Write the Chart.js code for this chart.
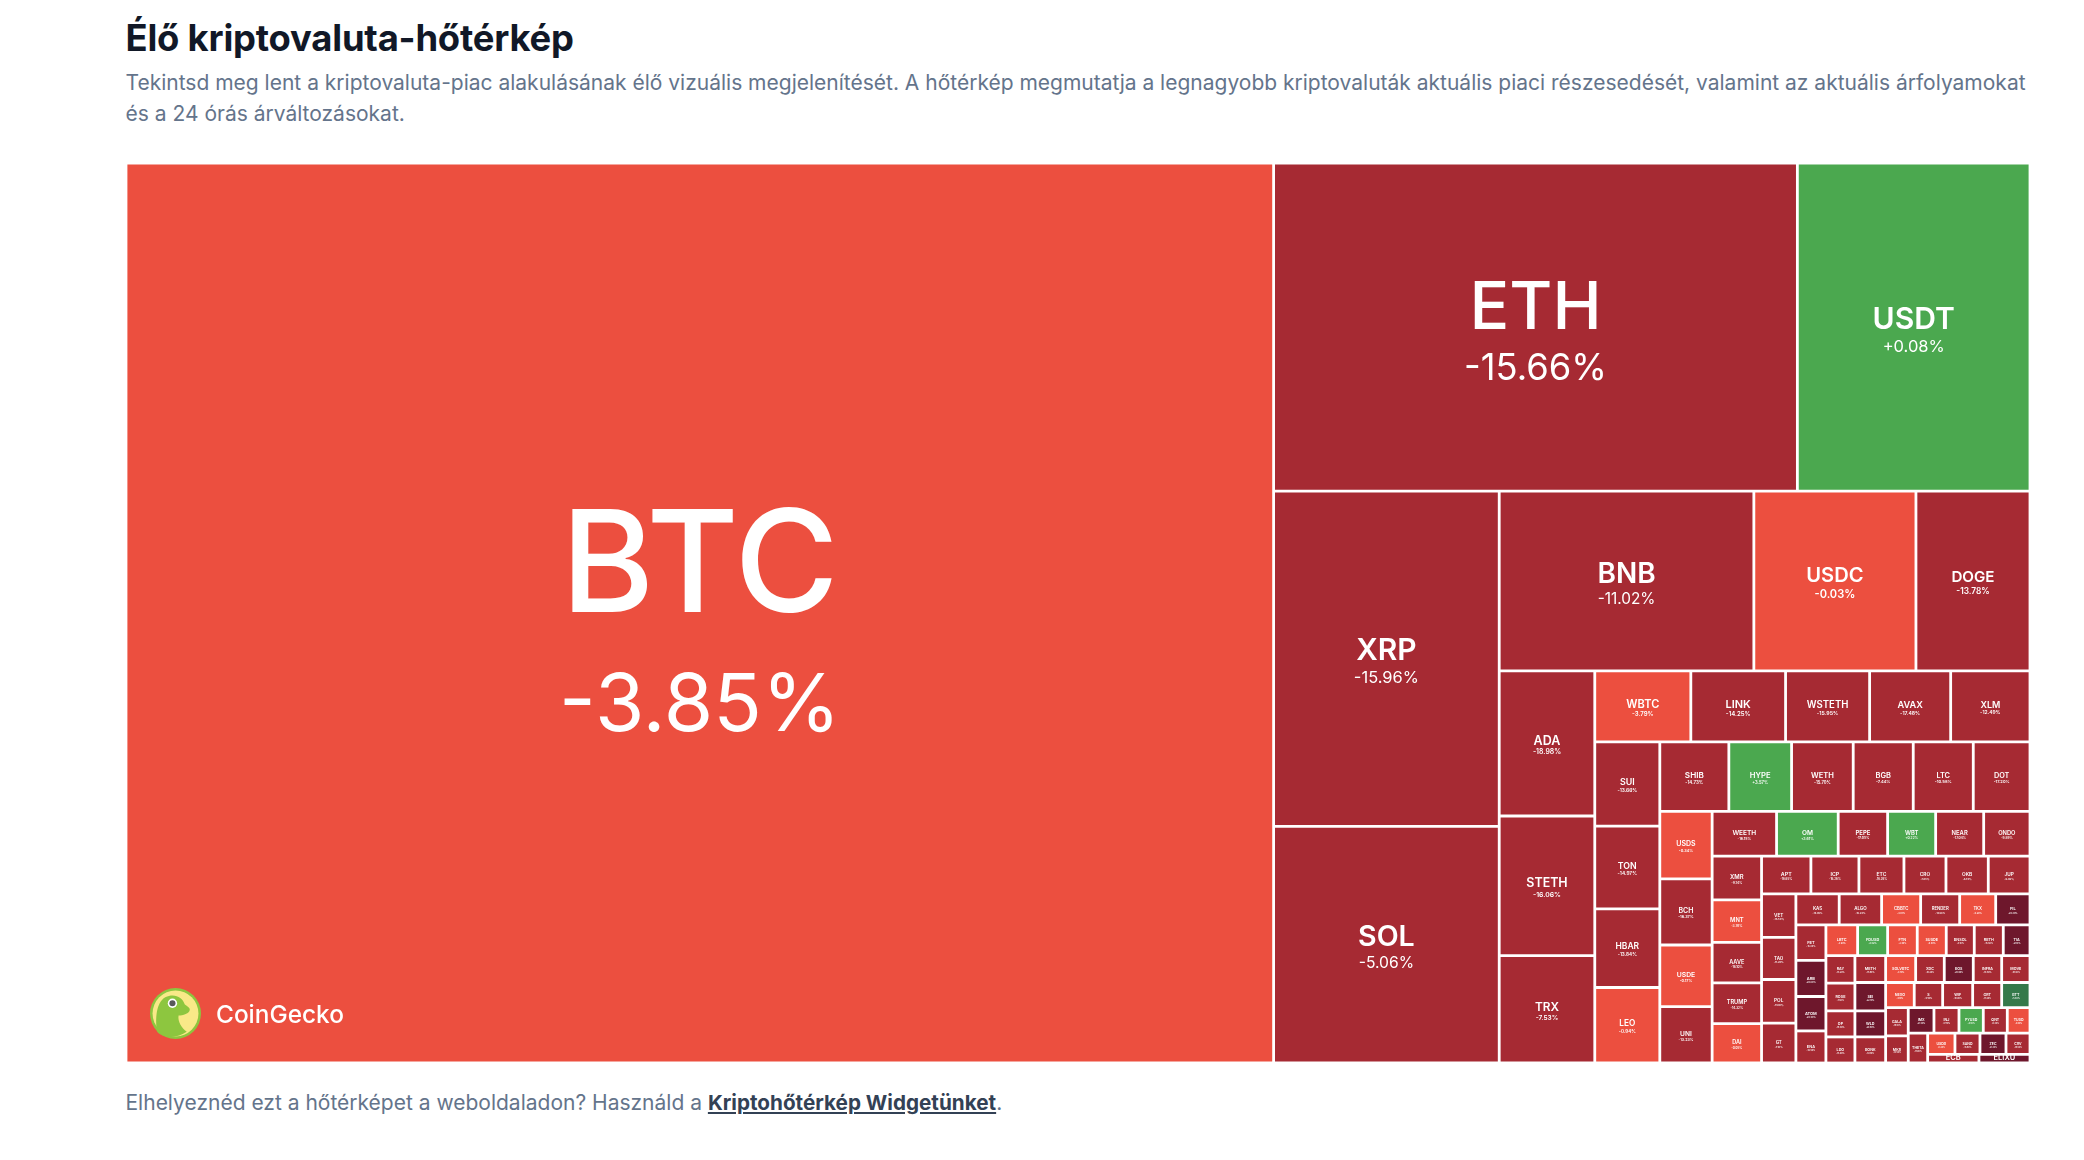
<!DOCTYPE html>
<html lang="hu">
<head>
<meta charset="UTF-8" />
<title>Élő kriptovaluta-hőtérkép</title>
<script src="https://cdn.jsdelivr.net/npm/chart.js@4"></script>
<style>
  html, body { margin: 0; padding: 0; background: #fff; font-family: Inter, sans-serif; }
  body { position: relative; width: 2084px; height: 1160px; overflow: hidden; }
  h1 { position: absolute; left: 125.5px; top: 16px; margin: 0; font-size: 36.4px; line-height: 44px; font-weight: 700; color: #111827; letter-spacing: -0.2px; }
  .lead { position: absolute; left: 125.5px; top: 67px; width: 1908px; margin: 0; font-size: 21px; line-height: 31px; color: #64748b; }
  .foot { position: absolute; left: 125.5px; top: 1087px; margin: 0; font-size: 21px; line-height: 31px; color: #64748b; }
  .foot a { color: #334155; font-size: 20.7px; font-weight: 700; text-decoration: underline; }
  #heatmap { position: absolute; left: 126px; top: 163px; }
  .brand { position: absolute; left: 150px; top: 988px; display: flex; align-items: center; color: #fff; font-size: 24.4px; font-weight: 500; }
  .brand svg { margin-right: 15px; }
</style>
</head>
<body>
<h1>Élő kriptovaluta-hőtérkép</h1>
<p class="lead">Tekintsd meg lent a kriptovaluta-piac alakulásának élő vizuális megjelenítését. A hőtérkép megmutatja a legnagyobb kriptovaluták aktuális piaci részesedését, valamint az aktuális árfolyamokat és a 24 órás árváltozásokat.</p>
<canvas id="heatmap" width="1904" height="900"></canvas>
<div class="brand">
  <svg width="51" height="51" viewBox="0 0 50 50">
    <circle cx="25" cy="25" r="25" fill="#8dc63f" />
    <circle cx="25" cy="25" r="22.5" fill="#f9e988" />
    <path d="M7 43C5 30 6 14 15 9c9-4 17 0 19 7 2 2 5 3 5 5 0 4-7 6-11 6-1 6 3 12 8 16-8 6-23 7-29 0z" fill="#8dc63f" />
    <circle cx="22" cy="15" r="4.6" fill="#fff" />
    <circle cx="22" cy="15" r="3" fill="#58595b" />
  </svg>
  <span>CoinGecko</span>
</div>
<p class="foot">Elhelyeznéd ezt a hőtérképet a weboldaladon? Használd a <a href="#">Kriptohőtérkép Widgetünket</a>.</p>

<script>
const symbols = ['BTC','ETH','USDT','XRP','SOL','BNB','USDC','DOGE','ADA','STETH','TRX','WBTC','LINK','WSTETH','AVAX','XLM','SUI','TON','HBAR','LEO','SHIB','HYPE','WETH','BGB','LTC','DOT','USDS','BCH','USDE','UNI','WEETH','OM','PEPE','WBT','NEAR','ONDO','XMR','MNT','AAVE','TRUMP','DAI','APT','ICP','ETC','CRO','OKB','JUP','VET','TAO','POL','GT','KAS','ALGO','CBBTC','RENDER','TKX','FIL','FET','ARB','ATOM','ENA','LBTC','FDUSD','FTN','SUSDE','BNSOL','RETH','TIA','RAY','ROSE','OP','LDO','METH','SOLVBTC','XDC','EOS','INFRA','MOVE','SEI','WLD','BONK','NEXO','S','WIF','GRT','BTT','GALA','MKR','IMX','INJ','PYUSD','QNT','TUSD','THETA','USD0','SAND','ZEC','CRV','ECB','ELIXU'];

const marketCaps = [1029433,171289,76074,75385,53218,45632,29047,20440,13819,13303,10219,6787,6695,5939,5727,5606,5460,5369,5096,4895,4782,4345,4269,4158,4158,3929,3520,3452,3211,2944,2879,2754,2208,2146,2146,2070,2154,2095,1991,2011,1941,1854,1805,1692,1579,1590,1568,1489,1441,1495,1362,1342,1314,1209,1209,1116,1063,1062,1080,1029,960,973,921,909,890,860,890,820,792,803,754,754,820,801,764,774,758,756,869,798,798,715,710,750,725,708,640,610,658,640,622,614,581,576,573,525,546,504,446,444];

const changes24h = [-3.85,-15.66,0.08,-15.96,-5.06,-11.02,-0.03,-13.78,-18.98,-16.06,-7.53,-3.79,-14.25,-15.95,-17.48,-12.49,-13.66,-14.97,-13.84,-0.94,-14.73,3.57,-15.70,-7.44,-10.58,-17.20,-0.34,-16.37,-0.17,-13.23,-16.15,3.61,-17.05,0.22,-17.04,-9.89,-9.14,-3.76,-16.10,-14.32,-0.05,-16.65,-16.26,-16.26,-7.05,-8.14,-9.89,-15.50,-11.20,-14.10,-7.10,-15.05,-15.24,-3.81,-14.90,-4.20,-20.30,-16.30,-20.60,-20.40,-19.50,-3.90,0.02,-2.40,-0.40,-6.10,-15.60,-21.10,-16.20,-7.60,-18.40,-16.90,-15.80,-3.70,-10.20,-20.90,-14.60,-18.30,-22.10,-20.80,-19.10,-4.10,-17.60,-18.90,-17.20,5.40,-18.10,-13.50,-21.40,-17.70,0.10,-9.30,-0.60,-17.90,-0.20,-16.80,-21.30,-18.60,-17.24,-25.85];

const LAYOUT_W = 1903;
const LAYOUT_H = 897.5;

function tileColor(change) {
  if (change >= 5) return '#35794a';
  if (change >= 0) return '#4ba84f';
  if (change > -5) return '#ec4f3f';
  if (change > -20) return '#a62a33';
  return '#6e172c';
}

// alternating strips: a strip stops growing as soon as its last tile gets less square
function layoutTiles(values, width, height) {
  const total = values.reduce((a, b) => a + b, 0);
  const unit = (width * height) / total;
  const areas = values.map(v => v * unit);
  const aspect = (a, b) => Math.max(a / b, b / a);
  const tiles = [];
  let rect = { x: 0, y: 0, w: width, h: height };
  let vertical = true;
  let i = 0;

  while (i < areas.length) {
    const side = vertical ? rect.h : rect.w;
    let sum = areas[i];
    let j = i + 1;
    while (j < areas.length) {
      const last = areas[j - 1];
      const before = sum / side;
      const after = (sum + areas[j]) / side;
      if (aspect(after, last / after) > aspect(before, last / before)) break;
      sum += areas[j];
      j += 1;
    }
    const thick = j === areas.length ? (vertical ? rect.w : rect.h) : sum / side;
    let pos = 0;
    for (let k = i; k < j; k++) {
      const len = (areas[k] / sum) * side;
      tiles.push(vertical
        ? { x0: rect.x, x1: rect.x + thick, y0: rect.y + pos, y1: rect.y + pos + len }
        : { x0: rect.x + pos, x1: rect.x + pos + len, y0: rect.y, y1: rect.y + thick });
      pos += len;
    }
    rect = vertical
      ? { x: rect.x + thick, y: rect.y, w: rect.w - thick, h: rect.h }
      : { x: rect.x, y: rect.y + thick, w: rect.w, h: rect.h - thick };
    vertical = !vertical;
    i = j;
  }
  return tiles;
}

class TileController extends Chart.DatasetController {
  parse(start, count) {
    const data = this.getDataset().data;
    const parsed = this._cachedMeta._parsed;
    for (let i = start; i < start + count; i++) parsed[i] = data[i];
  }

  update(mode) {
    const meta = this._cachedMeta;
    this.updateElements(meta.data, 0, meta.data.length, mode);
  }

  updateElements(rects, start, count, mode) {
    const { xScale, yScale } = this._cachedMeta;
    const data = this.getDataset().data;
    for (let i = start; i < start + count; i++) {
      const t = data[i];
      const left = xScale.getPixelForValue(t.x0);
      const right = xScale.getPixelForValue(t.x1);
      this.updateElement(rects[i], i, {
        x: (left + right) / 2,
        y: yScale.getPixelForValue(t.y0),
        base: yScale.getPixelForValue(t.y1),
        width: right - left,
        horizontal: false,
        borderSkipped: {},
        enableBorderRadius: false,
        inflateAmount: 0,
        options: this.resolveDataElementOptions(i, mode),
      }, mode);
    }
  }

  draw() {
    const ctx = this.chart.ctx;
    this._cachedMeta.data.forEach(el => el.draw(ctx));
  }
}
TileController.id = 'tile';
TileController.defaults = { dataElementType: 'bar' };
Chart.register(TileController);

// label size follows the tile size
const sizeStops = [[20, 3.4], [30, 3.8], [40, 4.8], [47, 6], [65, 7.5], [75, 9], [82, 11], [117, 12.5], [134, 13.5], [170, 20], [214, 28], [276, 30], [414, 66], [1014, 142]];
function labelSize(w, h) {
  if (h < 12) return 7.5;
  const s = Math.sqrt(w * h);
  for (let i = 1; i < sizeStops.length; i++) {
    const [a, fa] = sizeStops[i - 1];
    const [b, fb] = sizeStops[i];
    if (s <= b) return fa + ((Math.max(s, a) - a) / (b - a)) * (fb - fa);
  }
  return 142;
}

const tileLabels = {
  id: 'tileLabels',
  afterDatasetsDraw(chart) {
    const ctx = chart.ctx;
    ctx.save();
    ctx.textAlign = 'center';
    ctx.textBaseline = 'middle';
    ctx.fillStyle = '#fff';
    chart.getDatasetMeta(0).data.forEach((el, i) => {
      const h = el.base - el.y;
      const size = labelSize(el.width, h);
      const large = size > 100;
      const pct = large ? 80 : size * 0.55;
      const lh1 = size * (large ? 1.26 : 1.2);
      const lh2 = pct * (large ? 1.26 : 1.2);
      const nudge = large ? 0 : 1;
      const top = el.y + h / 2 - (lh1 + lh2) / 2 + nudge;
      const change = changes24h[i];
      const text = (change >= 0 ? '+' : '') + change.toFixed(2) + '%';
      ctx.font = `${size > 60 ? 500 : 600} ${size}px Inter`;
      ctx.fillText(symbols[i], el.x, top + lh1 / 2 + size * 0.05);
      ctx.font = `${size > 25 ? 400 : 600} ${pct}px Inter`;
      ctx.fillText(text, el.x, top + lh1 + lh2 / 2 + pct * 0.05);
    });
    ctx.restore();
  },
};

new Chart(document.getElementById('heatmap'), {
  type: 'tile',
  data: {
    labels: symbols,
    datasets: [{
      data: layoutTiles(marketCaps, LAYOUT_W, LAYOUT_H),
      backgroundColor: changes24h.map(tileColor),
      borderColor: '#ffffff',
      borderWidth: 1.4,
      inflateAmount: 0,
    }],
  },
  options: {
    responsive: false,
    animation: false,
    devicePixelRatio: 1,
    layout: { padding: 0 },
    plugins: { legend: { display: false }, tooltip: { enabled: false } },
    scales: {
      x: { type: 'linear', min: 0, max: LAYOUT_W, display: false },
      y: { type: 'linear', min: 0, max: LAYOUT_H, reverse: true, display: false },
    },
  },
  plugins: [tileLabels],
});
</script>
</body>
</html>
